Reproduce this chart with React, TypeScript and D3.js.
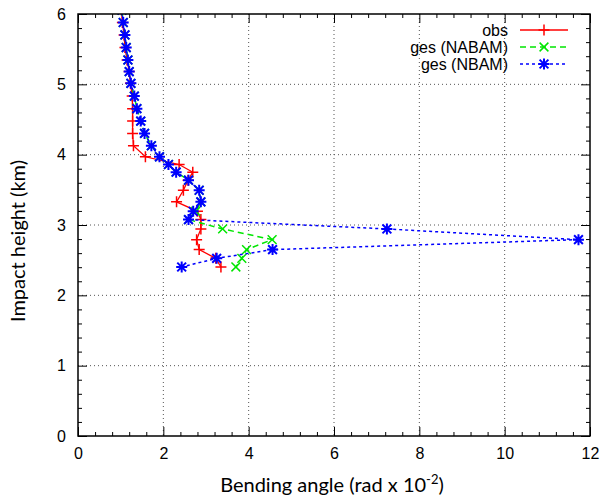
import React, { useEffect, useRef } from 'react';
import * as d3 from 'd3';

// impact height levels (km), top to bottom
const heights = [6.056, 5.879, 5.702, 5.523, 5.346, 5.181, 5.014, 4.833, 4.654, 4.477, 4.302, 4.127, 3.970, 3.860, 3.751, 3.637, 3.494, 3.329, 3.195, 3.077, 2.944, 2.792, 2.650, 2.526, 2.403];

// bending angle (rad x 1e-2)
const obs = [1.02, 1.04, 1.08, 1.10, 1.15, 1.20, 1.23, 1.27, 1.28, 1.28, 1.28, 1.30, 1.58, 2.37, 2.69, 2.58, 2.47, 2.31, 2.80, 2.88, 2.88, 2.78, 2.84, 3.23, 3.35];
const gesNABAM = [1.03, 1.06, 1.10, 1.13, 1.17, 1.20, 1.24, 1.32, 1.38, 1.47, 1.56, 1.72, 1.91, 2.12, 2.30, 2.59, 2.84, 2.88, 2.76, 2.59, 3.39, 4.55, 3.95, 3.84, 3.70];
const gesNBAM = [1.03, 1.06, 1.10, 1.13, 1.17, 1.20, 1.24, 1.32, 1.38, 1.47, 1.56, 1.72, 1.91, 2.12, 2.30, 2.59, 2.84, 2.88, 2.70, 2.59, 7.24, 11.73, 4.56, 3.25, 2.43];

const xTicks = [0, 2, 4, 6, 8, 10, 12];
const yTicks = [0, 1, 2, 3, 4, 5, 6];

const W = 600;
const H = 498;
const left = 78, right = 590, top = 14, bottom = 436;

const series = [
  { name: 'obs', values: obs, color: '#ff0000', dash: null, marker: 'plus', width: 1.3 },
  { name: 'ges (NABAM)', values: gesNABAM, color: '#00e600', dash: '6,4', marker: 'cross', width: 1.5 },
  { name: 'ges (NBAM)', values: gesNBAM, color: '#0000ff', dash: '3,3', marker: 'star', width: 1.5 },
];

const markerPath = (kind: string, s: number) => {
  const plus = `M${-s},0H${s}M0,${-s}V${s}`;
  const d = s * 0.8;
  const cross = `M${-d},${-d}L${d},${d}M${-d},${d}L${d},${-d}`;
  if (kind === 'plus') return plus;
  if (kind === 'cross') return cross;
  return plus + cross;
};

const App = () => {
  const axRef = useRef<SVGGElement>(null);

  const x = d3.scaleLinear().domain([0, 12]).range([left, right]);
  const y = d3.scaleLinear().domain([0, 6]).range([bottom, top]);

  useEffect(() => {
    const g = d3.select(axRef.current);
    g.selectAll('*').remove();
    const xMinor = d3.range(0, 12.001, 0.4).filter(v => Math.abs(v / 2 - Math.round(v / 2)) > 1e-6);
    const yMinor = d3.range(0, 6.001, 0.2).filter(v => Math.abs(v - Math.round(v)) > 1e-6);
    const style = (sel: any) => {
      sel.select('.domain').remove();
      sel.selectAll('line').attr('stroke', '#000').attr('stroke-width', 1);
      sel.selectAll('text').attr('font-family', '"Liberation Sans", Arial, sans-serif').attr('font-size', 16).attr('fill', '#000');
    };
    g.append('g').attr('transform', `translate(0,${bottom})`)
      .call(d3.axisBottom(x).tickValues(xTicks).tickSize(-9).tickPadding(12).tickFormat(d3.format('d')) as any).call(style);
    g.append('g').attr('transform', `translate(0,${bottom})`)
      .call(d3.axisBottom(x).tickValues(xMinor).tickSize(-4).tickFormat(() => '') as any).call(style);
    g.append('g').attr('transform', `translate(0,${top})`)
      .call(d3.axisTop(x).tickValues(xTicks).tickSize(-9).tickFormat(() => '') as any).call(style);
    g.append('g').attr('transform', `translate(0,${top})`)
      .call(d3.axisTop(x).tickValues(xMinor).tickSize(-4).tickFormat(() => '') as any).call(style);
    g.append('g').attr('transform', `translate(${left},0)`)
      .call(d3.axisLeft(y).tickValues(yTicks).tickSize(-9).tickPadding(12).tickFormat(d3.format('d')) as any).call(style);
    g.append('g').attr('transform', `translate(${left},0)`)
      .call(d3.axisLeft(y).tickValues(yMinor).tickSize(-4).tickFormat(() => '') as any).call(style);
    g.append('g').attr('transform', `translate(${right},0)`)
      .call(d3.axisRight(y).tickValues(yTicks).tickSize(-9).tickFormat(() => '') as any).call(style);
    g.append('g').attr('transform', `translate(${right},0)`)
      .call(d3.axisRight(y).tickValues(yMinor).tickSize(-4).tickFormat(() => '') as any).call(style);
  }, []);

  const line = d3.line<number>().x(d => x(d)).y((_, i) => y(heights[i]));

  return (
    <svg width={W} height={H} style={{ position: 'absolute', left: 0, top: 0, background: '#fff' }}>
      <defs>
        <clipPath id="plot"><rect x={left} y={top} width={right - left} height={bottom - top} /></clipPath>
      </defs>
      {/* grid */}
      {xTicks.slice(1, -1).map(t => (
        <line key={'gx' + t} x1={x(t)} x2={x(t)} y1={top} y2={bottom} stroke="#555" strokeWidth={1} strokeDasharray="1,3" />
      ))}
      {yTicks.slice(1, -1).map(t => (
        <line key={'gy' + t} x1={left} x2={right} y1={y(t)} y2={y(t)} stroke="#555" strokeWidth={1} strokeDasharray="1,3" />
      ))}
      <g clipPath="url(#plot)">
        {series.map(s => (
          <g key={s.name}>
            <path d={line(s.values) || ''} fill="none" stroke={s.color} strokeWidth={s.width} strokeDasharray={s.dash || undefined} />
            {s.values.map((v, i) => (
              <path key={i} d={markerPath(s.marker, 5.5)} transform={`translate(${x(v)},${y(heights[i])})`} stroke={s.color} strokeWidth={s.marker === 'star' ? 2 : 1.5} fill="none" />
            ))}
          </g>
        ))}
      </g>
      <g ref={axRef} />
      <rect x={left} y={top} width={right - left} height={bottom - top} fill="none" stroke="#000" strokeWidth={1.5} />
      {/* legend */}
      {series.map((s, i) => {
        const ly = 30 + i * 17;
        return (
          <g key={'lg' + s.name}>
            <text x={508} y={ly} dy="0.35em" textAnchor="end" fontFamily='"Liberation Sans", Arial, sans-serif' fontSize={16}>{s.name}</text>
            <line x1={520} x2={568} y1={ly} y2={ly} stroke={s.color} strokeWidth={s.width} strokeDasharray={s.dash || undefined} />
            <path d={markerPath(s.marker, 5.5)} transform={`translate(544,${ly})`} stroke={s.color} strokeWidth={s.marker === 'star' ? 2 : 1.5} fill="none" />
          </g>
        );
      })}
      <text transform={`translate(25,${(top + bottom) / 2 + 16}) rotate(-90)`} textAnchor="middle" fontFamily="Lato, sans-serif" fontSize={20}>Impact height (km)</text>
      <text x={332} y={492} textAnchor="middle" fontFamily="Lato, sans-serif" fontSize={20}>
        Bending angle (rad x 10<tspan fontSize={13} dy={-8}>-2</tspan><tspan dy={8}>)</tspan>
      </text>
    </svg>
  );
};

export default App;
